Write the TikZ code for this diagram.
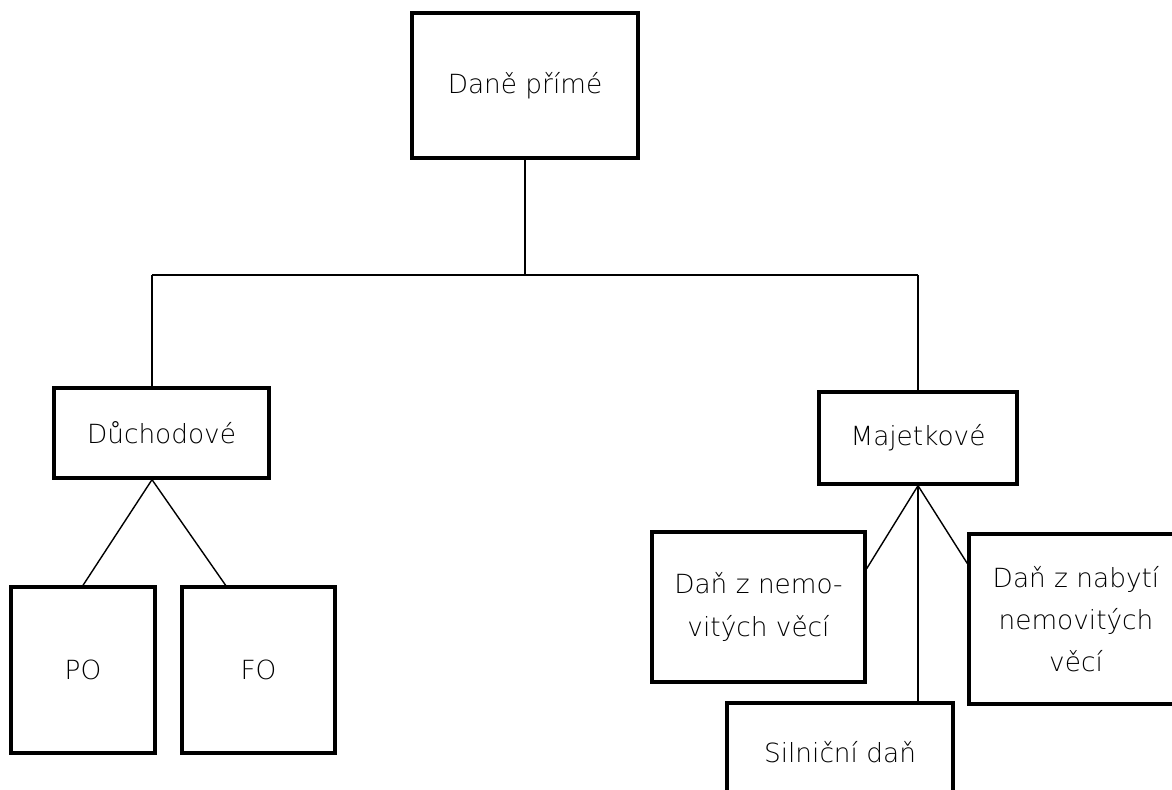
\documentclass[tikz,border=0pt]{standalone}
\usepackage{fontspec}
\setmainfont{DejaVu Sans}[UprightFont=* ExtraLight]
\usetikzlibrary{calc}

\tikzset{
  taxbox/.style={draw=black, line width=1.9pt, align=center, inner sep=0pt,
    font=\fontsize{15pt}{24pt}\selectfont},
  busline/.style={line width=1.5pt},
  branch/.style={line width=0.8pt}
}

\begin{document}
\begin{tikzpicture}[x=0.02cm, y=-0.02cm]
\clip (0,0) rectangle (1172,790);
% boxes
\node[taxbox, minimum width=4.52cm, minimum height=2.9cm] (prime) at (525,85.5) {Daně přímé};
\node[taxbox, minimum width=4.3cm, minimum height=1.8cm] (duch) at (161.5,433) {Důchodové};
\node[taxbox, minimum width=2.88cm, minimum height=3.32cm] (po) at (83,670) {PO};
\node[taxbox, minimum width=3.06cm, minimum height=3.32cm] (fo) at (258.5,670) {FO};
\node[taxbox, minimum width=3.96cm, minimum height=1.84cm] (majet) at (918,438) {Majetkové};
\node[taxbox, minimum width=4.26cm, minimum height=3cm] (nemo) at (758.5,607) {Daň z nemo-\\vitých věcí};
\node[taxbox, minimum width=4.28cm, minimum height=3.4cm] (nabyti) at (1076,619) {Daň z nabytí\\nemovitých\\věcí};
\node[taxbox, minimum width=4.52cm, minimum height=1.96cm] (silnice) at (840,752) {Silniční daň};
% bus
\coordinate (busL) at (152,275);
\coordinate (busR) at (prime.south |- busL);
\coordinate (busE) at (majet.north |- busL);
\draw[busline] (prime.south) -- (busR);
\draw[busline] (busL) -- (busE);
\draw[branch] (busL) -- (busL |- duch.north);
\draw[branch] (busE) -- (majet.north);
% Duchodove
\coordinate (duchfoot) at (busL |- duch.south);
\draw[branch] (duchfoot) -- (po.north);
\draw[branch] (duchfoot) -- ($(fo.north west)!0.29!(fo.north east)$);
% Majetkove
\draw[branch] (majet.south) -- ($(nemo.north east)!0.25!(nemo.south east)$);
\draw[branch] (majet.south) -- ($(nabyti.north west)!0.18!(nabyti.south west)$);
\draw[branch] (majet.south) -- (majet.south |- silnice.north);
\end{tikzpicture}
\end{document}
